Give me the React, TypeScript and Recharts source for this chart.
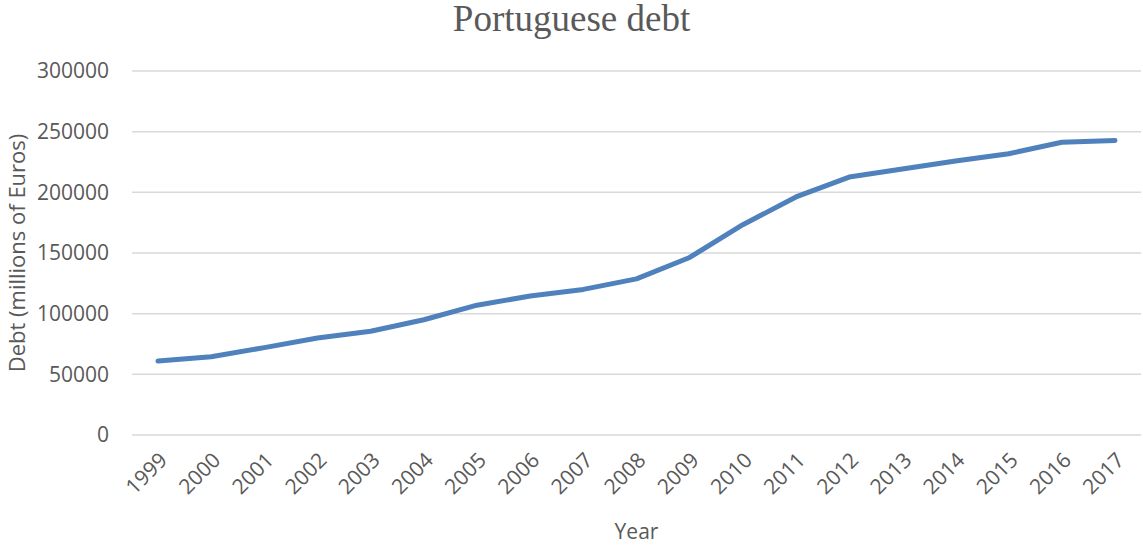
import { CartesianGrid, LineChart, XAxis, YAxis, Line } from "recharts";

const years = [
  "1999", "2000", "2001", "2002", "2003", "2004", "2005", "2006", "2007", "2008",
  "2009", "2010", "2011", "2012", "2013", "2014", "2015", "2016", "2017",
];
const debt = [
  61000, 64500, 72000, 80000, 85500, 95000, 107000, 114500, 120000, 128700,
  146300, 173300, 196200, 212600, 219300, 225800, 231800, 241300, 242700,
];
const yTicks = [0, 50000, 100000, 150000, 200000, 250000, 300000];

const chartData = years.map((year, i) => ({ year, debt: debt[i] }));

const textColor = "#595959";
const sans = "'Open Sans', 'Noto Sans', sans-serif";

const App = () => {
  return (
    <div style={{ position: "absolute", left: 0, top: 0, width: 1143, height: 545 }}>
      <div
        style={{
          position: "absolute",
          top: -3,
          left: 0,
          width: 1143,
          textAlign: "center",
          fontFamily: "'Liberation Serif', 'Times New Roman', serif",
          fontSize: 37,
          color: textColor,
          whiteSpace: "nowrap",
        }}
      >
        Portuguese debt
      </div>
      <LineChart
        width={1143}
        height={545}
        data={chartData}
        margin={{ top: 71, right: 2, bottom: 0, left: 0 }}
      >
        <CartesianGrid vertical={false} stroke="#D9D9D9" strokeWidth={1.5} />
        <XAxis
          dataKey="year"
          interval={0}
          angle={-45}
          textAnchor="end"
          height={110}
          padding={{ left: 26, right: 26 }}
          tickLine={false}
          axisLine={false}
          tickMargin={10}
          tick={{ fill: textColor, fontSize: 21, fontFamily: sans }}
          label={{
            value: "Year",
            position: "insideBottom",
            offset: 6,
            fill: textColor,
            fontSize: 21,
            fontFamily: sans,
          }}
        />
        <YAxis
          width={132}
          domain={[0, 300000]}
          ticks={yTicks}
          interval={0}
          tickLine={false}
          axisLine={false}
          tickMargin={17}
          tick={{ fill: textColor, fontSize: 21, fontFamily: sans }}
          label={{
            value: "Debt (millions of Euros)",
            angle: -90,
            position: "insideLeft",
            offset: 17,
            fill: textColor,
            fontSize: 22,
            fontFamily: sans,
            style: { textAnchor: "middle" },
          }}
        />
        <Line
          type="linear"
          dataKey="debt"
          stroke="#4F81BD"
          strokeWidth={5}
          strokeLinecap="round"
          strokeLinejoin="round"
          dot={false}
          isAnimationActive={false}
        />
      </LineChart>
    </div>
  );
};

export default App;
